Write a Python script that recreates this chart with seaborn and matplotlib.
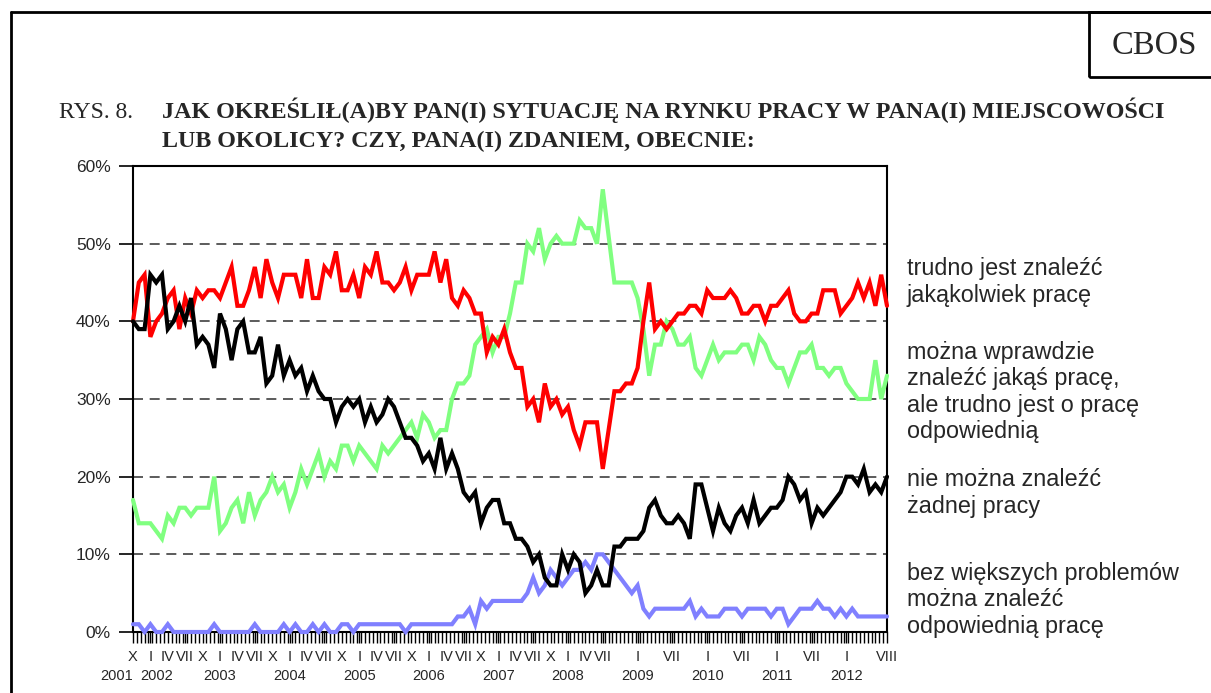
import numpy as np
import pandas as pd
import seaborn as sns
import matplotlib.pyplot as plt
from matplotlib.lines import Line2D
from matplotlib.patches import Rectangle
from matplotlib.transforms import blended_transform_factory

# monthly readings, X 2001 .. VIII 2012 (131 months)
trudno_jakakolwiek = [
    40, 45, 46, 38, 40, 41, 43, 44, 39, 43, 41, 44, 43, 44, 44, 43, 45, 47, 42, 42,
    44, 47, 43, 48, 45, 43, 46, 46, 46, 43, 48, 43, 43, 47, 46, 49, 44, 44, 46, 43,
    47, 46, 49, 45, 45, 44, 45, 47, 44, 46, 46, 46, 49, 45, 48, 43, 42, 44, 43, 41,
    41, 36, 38, 37, 39, 36, 34, 34, 29, 30, 27, 32, 29, 30, 28, 29, 26, 24, 27, 27,
    27, 21, 26, 31, 31, 32, 32, 34, 40, 45, 39, 40, 39, 40, 41, 41, 42, 42, 41, 44,
    43, 43, 43, 44, 43, 41, 41, 42, 42, 40, 42, 42, 43, 44, 41, 40, 40, 41, 41, 44,
    44, 44, 41, 42, 43, 45, 43, 45, 42, 46, 42,
]
nie_mozna_zadnej = [
    40, 39, 39, 46, 45, 46, 39, 40, 42, 40, 43, 37, 38, 37, 34, 41, 39, 35, 39, 40,
    36, 36, 38, 32, 33, 37, 33, 35, 33, 34, 31, 33, 31, 30, 30, 27, 29, 30, 29, 30,
    27, 29, 27, 28, 30, 29, 27, 25, 25, 24, 22, 23, 21, 25, 21, 23, 21, 18, 17, 18,
    14, 16, 17, 17, 14, 14, 12, 12, 11, 9, 10, 7, 6, 6, 10, 8, 10, 9, 5, 6,
    8, 6, 6, 11, 11, 12, 12, 12, 13, 16, 17, 15, 14, 14, 15, 14, 12, 19, 19, 16,
    13, 16, 14, 13, 15, 16, 14, 17, 14, 15, 16, 16, 17, 20, 19, 17, 18, 14, 16, 15,
    16, 17, 18, 20, 20, 19, 21, 18, 19, 18, 20,
]
mozna_ale_trudno = [
    17, 14, 14, 14, 13, 12, 15, 14, 16, 16, 15, 16, 16, 16, 20, 13, 14, 16, 17, 14,
    18, 15, 17, 18, 20, 18, 19, 16, 18, 21, 19, 21, 23, 20, 22, 21, 24, 24, 22, 24,
    23, 22, 21, 24, 23, 24, 25, 26, 27, 25, 28, 27, 25, 26, 26, 30, 32, 32, 33, 37,
    38, 39, 36, 38, 38, 41, 45, 45, 50, 49, 52, 48, 50, 51, 50, 50, 50, 53, 52, 52,
    50, 57, 51, 45, 45, 45, 45, 43, 39, 33, 37, 37, 40, 39, 37, 37, 38, 34, 33, 35,
    37, 35, 36, 36, 36, 37, 37, 35, 38, 37, 35, 34, 34, 32, 34, 36, 36, 37, 34, 34,
    33, 34, 34, 32, 31, 30, 30, 30, 35, 30, 33,
]
bez_problemow = [
    1, 1, 0, 1, 0, 0, 1, 0, 0, 0, 0, 0, 0, 0, 1, 0, 0, 0, 0, 0,
    0, 1, 0, 0, 0, 0, 1, 0, 1, 0, 0, 1, 0, 1, 0, 0, 1, 1, 0, 1,
    1, 1, 1, 1, 1, 1, 1, 0, 1, 1, 1, 1, 1, 1, 1, 1, 2, 2, 3, 1,
    4, 3, 4, 4, 4, 4, 4, 4, 5, 7, 5, 6, 8, 7, 6, 7, 8, 8, 9, 8,
    10, 10, 9, 8, 7, 6, 5, 6, 3, 2, 3, 3, 3, 3, 3, 3, 4, 2, 3, 2,
    2, 2, 3, 3, 3, 2, 3, 3, 3, 3, 2, 3, 3, 1, 2, 3, 3, 3, 4, 3,
    3, 2, 3, 2, 3, 2, 2, 2, 2, 2, 2,
]

series_names = [
    "bez większych problemów",
    "można wprawdzie",
    "trudno jest znaleźć",
    "nie można znaleźć",
]
series_colors = ["#8080FF", "#80FF80", "#FF0000", "#000000"]

# axis labels: month index -> roman month
month_ticks = [0, 3, 6, 9, 12, 15, 18, 21, 24, 27, 30, 33, 36, 39, 42, 45, 48, 51, 54,
               57, 60, 63, 66, 69, 72, 75, 78, 81, 87, 93, 99, 105, 111, 117, 123, 130]
month_labels = ["X", "I", "IV", "VII", "X", "I", "IV", "VII", "X", "I", "IV", "VII",
                "X", "I", "IV", "VII", "X", "I", "IV", "VII", "X", "I", "IV", "VII",
                "X", "I", "IV", "VII", "I", "VII", "I", "VII", "I", "VII", "I", "VIII"]
year_pos = [0, 1.3, 15, 27, 39, 51, 63, 75, 87, 99, 111, 123]
year_labels = ["2001", "2002", "2003", "2004", "2005", "2006",
               "2007", "2008", "2009", "2010", "2011", "2012"]

right_labels = [
    ("trudno jest znaleźć\njakąkolwiek pracę", 282),
    ("można wprawdzie\nznaleźć jakąś pracę,\nale trudno jest o pracę\nodpowiednią", 392),
    ("nie można znaleźć\nżadnej pracy", 493),
    ("bez większych problemów\nmożna znaleźć\nodpowiednią pracę", 600),
]

months = np.arange(len(trudno_jakakolwiek))
df = pd.concat([
    pd.DataFrame({"month": months, "value": vals, "series": name})
    for name, vals in zip(series_names,
                          [bez_problemow, mozna_ale_trudno, trudno_jakakolwiek, nie_mozna_zadnej])
])

sns.set_style("white")
plt.rcParams["font.family"] = ["Liberation Sans", "DejaVu Sans"]

W, H = 1211, 693
fig = plt.figure(figsize=(W / 100, H / 100), dpi=100)


def fx(px):
    return px / W


def fy(py):
    return 1 - py / H


ax = fig.add_axes([fx(133), fy(632), fx(887) - fx(133), fy(166) - fy(632)])

sns.lineplot(data=df, x="month", y="value", hue="series", hue_order=series_names,
             palette=dict(zip(series_names, series_colors)), estimator=None,
             linewidth=3, legend=False, ax=ax)
for ln in ax.lines:
    ln.set_clip_on(False)
    ln.set_zorder(4)
    ln.set_solid_joinstyle("miter")

ax.set_xlim(0, 130)
ax.set_ylim(0, 60)
ax.set_xlabel("")
ax.set_ylabel("")

ax.set_yticks(range(0, 61, 10))
ax.set_yticklabels([f"{v}%" for v in range(0, 61, 10)], fontsize=12.5)
ax.tick_params(axis="y", direction="out", length=10, width=1.2, color="black", pad=6, left=True)
for v in range(10, 60, 10):
    ax.axhline(v, color="#404040", lw=1.2, ls=(0, (6, 4)), zorder=1)

ax.set_xticks(month_ticks)
ax.set_xticklabels(month_labels, fontsize=10.5)
ax.set_xticks(np.linspace(0, 130, 196), minor=True)
ax.tick_params(axis="x", which="both", direction="out", length=8, width=1, color="black",
               bottom=True, pad=5)
trans = blended_transform_factory(ax.transData, ax.transAxes)
for pos, lab in zip(year_pos, year_labels):
    ha = "right" if pos == 0 else ("left" if lab == "2002" else "center")
    ax.text(pos, -0.08, lab, transform=trans, ha=ha, va="top", fontsize=10.5)

for sp in ax.spines.values():
    sp.set_visible(True)
    sp.set_color("black")
    sp.set_linewidth(1.5)

for txt, yc in right_labels:
    fig.text(fx(907), fy(yc), txt, ha="left", va="center", fontsize=16.8, linespacing=1.2)

# page frame and CBOS box
fig.add_artist(Line2D([fx(11), fx(W)], [fy(12), fy(12)], color="black", lw=2))
fig.add_artist(Line2D([fx(11), fx(11)], [fy(12), fy(H)], color="black", lw=2))
fig.add_artist(Rectangle((fx(1089), fy(77)), fx(130), fy(12) - fy(77),
                         fill=False, edgecolor="black", lw=2))
fig.text(fx(1154), fy(54), "CBOS", ha="center", va="baseline", fontsize=23.5,
         family=["Liberation Serif"])

fig.text(fx(59), fy(118), "RYS. 8.", ha="left", va="baseline", fontsize=17,
         family=["Liberation Serif"])
fig.text(fx(162), fy(118), "JAK OKREŚLIŁ(A)BY PAN(I) SYTUACJĘ NA RYNKU PRACY W PANA(I) MIEJSCOWOŚCI",
         ha="left", va="baseline", fontsize=17.3, fontweight="bold", family=["Liberation Serif"])
fig.text(fx(162), fy(147), "LUB OKOLICY? CZY, PANA(I) ZDANIEM, OBECNIE:",
         ha="left", va="baseline", fontsize=17.3, fontweight="bold", family=["Liberation Serif"])

fig.savefig("out.png", dpi=100, facecolor="white")
